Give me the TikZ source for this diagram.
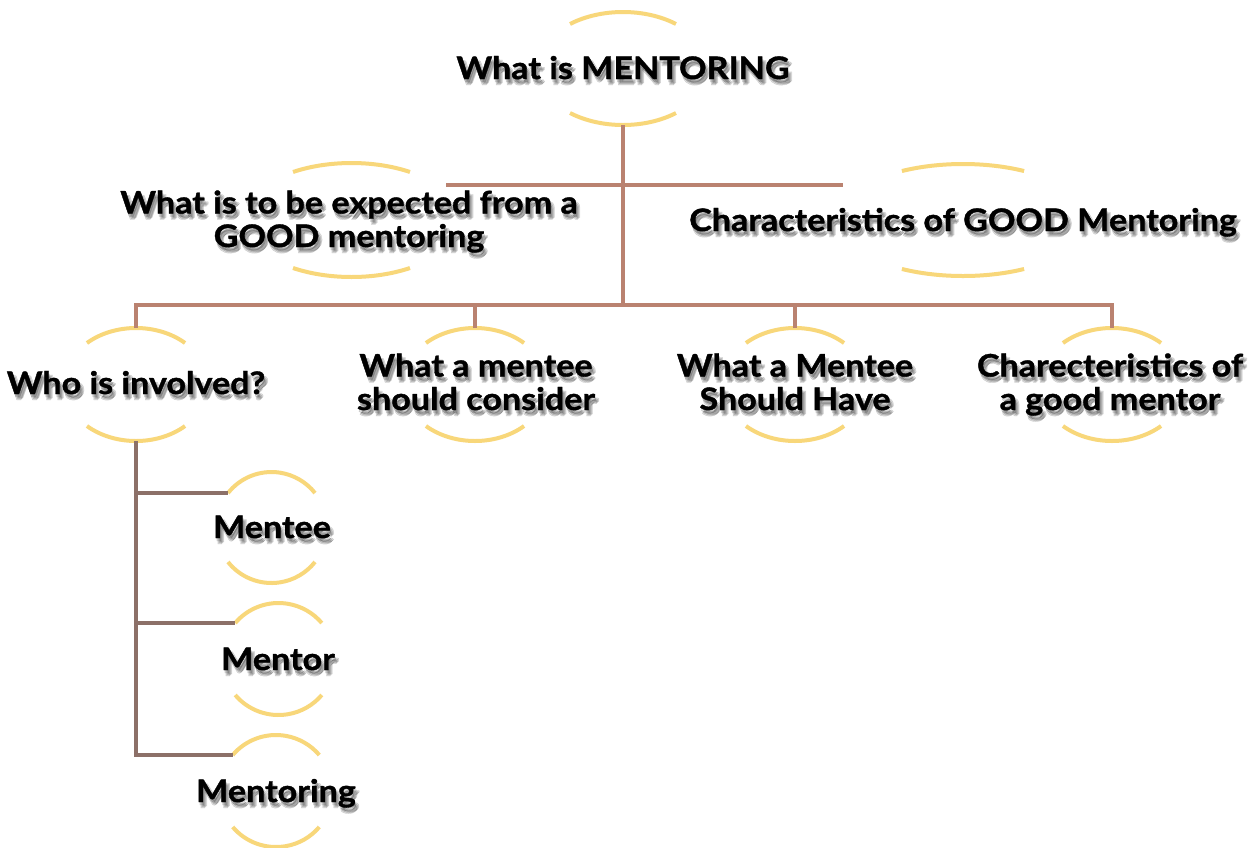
\documentclass[tikz,border=0pt]{standalone}
\usepackage{fontspec}
\setmainfont{Lato}
\newfontfamily\lblfont{Lato}[FakeStretch=1.1, BoldFeatures={FakeBold=1.2}]
\definecolor{arcyellow}{HTML}{F8D77A}
\definecolor{linetop}{HTML}{BA8270}
\definecolor{linelow}{HTML}{8C7068}
\tikzset{
  arcline/.style={draw=arcyellow, line width=4pt},
  topline/.style={draw=linetop, line width=4pt},
  lowline/.style={draw=linelow, line width=4pt},
  lbltxt/.style={inner sep=0pt, anchor=base, align=center, font=\lblfont\bfseries\fontsize{31}{33.5}\selectfont},
  shtxt/.style={lbltxt, text=black, text opacity=0.13},
}
% #1 name, #2 cx, #3 cy, #4 a, #5 b, #6 half angle
\newcommand\ovarcs[6]{%
  \coordinate (#1c) at (#2,#3);
  \draw[arcline] ([shift={(#1c)}]{90+#6}:#4pt and #5pt) arc[start angle={90+#6}, end angle={90-#6}, x radius=#4pt, y radius=#5pt];
  \draw[arcline] ([shift={(#1c)}]{270-#6}:#4pt and #5pt) arc[start angle={270-#6}, end angle={270+#6}, x radius=#4pt, y radius=#5pt];
  \coordinate (#1t) at ([shift={(#1c)}]90:#4pt and #5pt);
  \coordinate (#1b) at ([shift={(#1c)}]270:#4pt and #5pt);
  \coordinate (#1l) at ([shift={(#1c)}]{90+#6}:#4pt and #5pt);
}
% #1 name, #2 x,y (baseline of last line), #3 extra style, #4 text
\newcommand\lbl[4]{%
  \foreach \dx/\dy/\k in {1/3/1,3/5/2,2/6/3,4/4/4}{%
    \node[shtxt,#3] (#1s\k) at ([shift={(\dx,\dy)}]#2) {#4};}
  \node[lbltxt,#3] (#1) at (#2) {#4};
}
\begin{document}
\begin{tikzpicture}[x=1pt,y=-1pt]
\fill[white] (0,0) rectangle (1257,847);
\useasboundingbox (0,0) rectangle (1257,847);

% decorative arcs
\ovarcs{T}{623}{68.5}{86}{56.5}{38}
\ovarcs{A}{351.5}{220}{108.5}{57}{32.6}
\ovarcs{B}{963}{220}{126}{56}{29}
\ovarcs{W}{136}{384.5}{72.3}{56.5}{42.7}
\ovarcs{C}{475}{384.5}{72.3}{56.5}{42.7}
\ovarcs{H}{795}{384.5}{72.3}{56.5}{42.7}
\ovarcs{G}{1112}{384.5}{72.3}{56.5}{42.7}
\ovarcs{M}{271.5}{527.5}{55.5}{55.5}{51.6}
\ovarcs{R}{278.5}{659}{56.5}{56}{50}
\ovarcs{N}{276}{791}{56.5}{56}{50}

% connectors
\coordinate (hub) at (623,305);
\coordinate (ajoin) at (446,185);
\coordinate (bjoin) at (843,185);
\draw[topline] (Tb) -- (hub);
\draw[topline] (ajoin) -- (bjoin);
\draw[topline] (Wt) -- (Wt |- hub) -- (Gt |- hub) -- (Gt);
\draw[topline] (Ct) -- (Ct |- hub);
\draw[topline] (Ht) -- (Ht |- hub);
\draw[lowline] (Wb) -- (Wb |- Nl) -- (Nl);
\draw[lowline] (Wb |- Ml) -- (Ml);
\draw[lowline] (Wb |- Rl) -- (Rl);

% labels
\lbl{tT}{623,79}{}{What is MENTORING}
\lbl{tA}{349,247}{}{What is to be expected from a\\GOOD mentoring}
\lbl{tB}{963,231}{}{Characteristics of GOOD Mentoring}
\lbl{tW}{136,394}{}{Who is involved?}
\lbl{tC}{476,410}{}{What a mentee\\should consider}
\lbl{tH}{795,410}{}{What a Mentee\\Should Have}
\lbl{tG}{1110,410}{}{Charecteristics of\\a good mentor}
\lbl{tM}{272,538}{}{Mentee}
\lbl{tR}{278,670}{}{Mentor}
\lbl{tN}{276,802}{}{Mentoring}
\end{tikzpicture}
\end{document}
